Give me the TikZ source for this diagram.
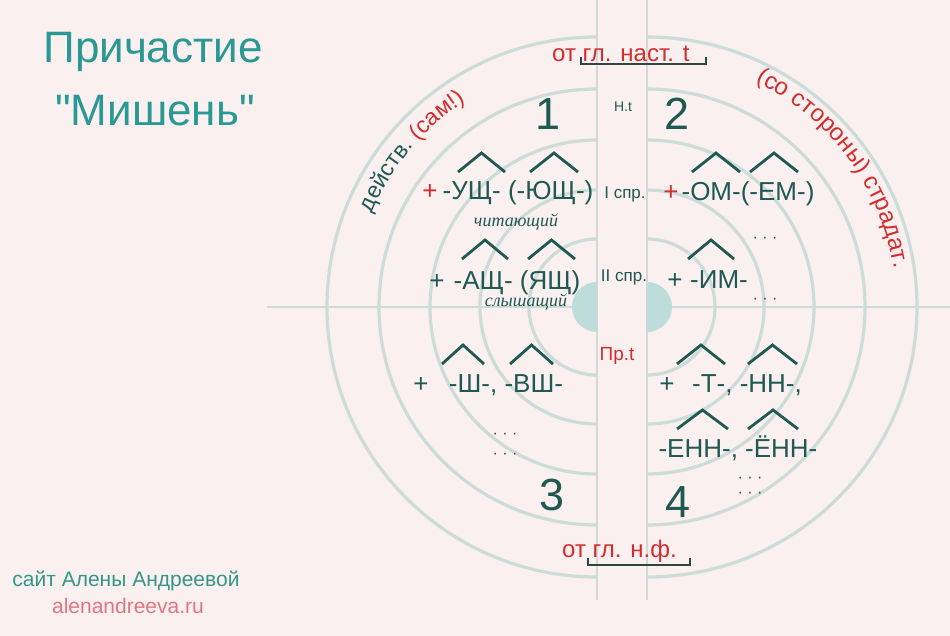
\documentclass[tikz,border=0pt]{standalone}
\usepackage{fontspec}
\setmainfont{Liberation Sans}[Ligatures=TeXOff]
\newfontfamily\handfont{Liberation Serif}
\usetikzlibrary{decorations.text}
\definecolor{tdark}{RGB}{32,88,82}
\definecolor{ttitle}{RGB}{42,152,147}
\definecolor{redc}{RGB}{212,44,44}
\definecolor{ringc}{RGB}{204,220,217}
\definecolor{vlinec}{RGB}{212,217,215}
\definecolor{discc}{RGB}{190,221,218}
\definecolor{ftteal}{RGB}{52,150,135}
\definecolor{ftred}{RGB}{226,118,128}
\definecolor{bgc}{RGB}{250,240,240}
\definecolor{dotc}{RGB}{60,70,70}
\definecolor{brc}{RGB}{45,70,68}
\begin{document}
\begin{tikzpicture}[x=1pt,y=1pt,
  hat/.style={draw=tdark, line width=2.8pt},
  ring/.style={draw=ringc, line width=3.2pt},
  vline/.style={draw=vlinec, line width=1.5pt},
  hline/.style={draw=ringc, line width=2.6pt},
  suf/.style={font=\fontsize{26}{30}\selectfont, text=tdark, inner sep=0pt, anchor=base},
  plusr/.style={suf, text=redc},
  num/.style={font=\fontsize{45}{50}\selectfont, text=tdark, inner sep=0pt, anchor=base},
  small/.style={font=\fontsize{17}{20}\selectfont, text=tdark, inner sep=0pt, anchor=base},
  hand/.style={font=\handfont\itshape\fontsize{18}{20}\selectfont, text=tdark, inner sep=0pt},
  dots/.style={font=\fontsize{16}{18}\selectfont, text=dotc, inner sep=0pt, anchor=base},
  redlab/.style={font=\fontsize{24}{27}\selectfont, text=redc, inner sep=0pt, anchor=base},
  titlestyle/.style={font=\fontsize{44}{50}\selectfont, text=ttitle, inner sep=0pt, anchor=base},
  bracket/.style={draw=brc, line width=1.6pt},
]
\fill[bgc] (0,0) rectangle (950,-636);
\useasboundingbox (0,0) rectangle (950,-636);

% lines
\draw[vline] (597,0) -- (597,-600);
\draw[vline] (647,0) -- (647,-600);
\draw[hline] (267,-307) -- (597,-307);
\draw[hline] (647,-307) -- (950,-307);

% central half discs
\fill[discc] (597,-282) arc[start angle=90,end angle=270,radius=25] -- cycle;
\fill[discc] (647,-282) arc[start angle=90,end angle=-90,radius=25] -- cycle;

% rings
\foreach \r in {68,117,167,218,270}{
  \draw[ring] (597,-307) ++(90:\r) arc[start angle=90,end angle=270,radius=\r];
  \draw[ring] (647,-307) ++(90:\r) arc[start angle=90,end angle=-90,radius=\r];
}

% arc texts
\path[decorate, decoration={text along path, text align=center,
  text={|\fontsize{23}{26}\selectfont\color{tdark}|действ. |\fontsize{23}{26}\selectfont\color{redc}|(сам!)}}]
  (597,-307) ++(175:244) arc[start angle=175,end angle=105,radius=244];
\path[decorate, decoration={text along path, text align=center,
  text={|\fontsize{24}{27}\selectfont\color{redc}|(со стороны) страдат.}}]
  (647,-307) ++(85:250) arc[start angle=85,end angle=-12,radius=250];

% title
\node[titlestyle] (t1) at (153,-63) {Причастие};
\node[titlestyle] (t2) at (155,-126) {"Мишень"};

% top / bottom labels
\node[redlab, anchor=base west] (top) at (552,-62) {от гл. наст. t};
\draw[bracket] (581,-57) -- (581,-64) -- (706,-64) -- (706,-57);
\node[redlab, anchor=base west] (bot) at (562,-557) {от гл. н.ф.};
\draw[bracket] (588,-558) -- (588,-565) -- (690,-565) -- (690,-558);

% numbers
\node[num] (n1) at (548,-130) {1};
\node[num] (n2) at (677,-130) {2};
\node[num] (n3) at (552,-510) {3};
\node[num] (n4) at (678,-517) {4};

% middle labels
\node[small, font=\fontsize{14}{16}\selectfont] (nt) at (623,-112) {Н.t};
\node[small] (s1) at (625,-199) {I спр.};
\node[small] (s2) at (624,-282) {II спр.};
\node[small, text=redc, font=\fontsize{19}{22}\selectfont] (pt) at (617,-360) {Пр.t};

% suffix rows
\node[plusr] (p1) at (430,-200) {+};
\node[suf] (r1) at (518,-200) {-УЩ- (-ЮЩ-)};
\node[plusr] (p2) at (671,-201) {+};
\node[suf] (r2) at (748,-201) {-ОМ-(-ЕМ-)};
\node[suf] (p3) at (437,-290) {+};
\node[suf] (r3) at (517,-290) {-АЩ- (ЯЩ)};
\node[suf] (p4) at (675,-289) {+};
\node[suf] (r4) at (719,-289) {-ИМ-};
\node[suf] (p5) at (421,-392) {+};
\node[suf] (r5) at (506,-392) {-Ш-, -ВШ-};
\node[suf] (p6) at (667,-392) {+};
\node[suf] (r6) at (747,-392) {-Т-, -НН-,};
\node[suf] (r7) at (738,-457) {-ЕНН-, -ЁНН-};

% hand-written examples
\node[hand] (h1) at (516,-222) {читающий};
\node[hand] (h2) at (526,-302) {слышащий};

% hats
\foreach \a/\b/\t in {458/505/153, 530/578/153, 692/740/153, 750/798/153,
  462/508/240, 528/575/240, 688/734/240,
  442/484/345, 510/553/345, 677/725/345, 748/797/345,
  677/728/410, 748/798/410}{
  \draw[hat] (\a,-\t-19) -- ({(\a+\b)/2},-\t) -- (\b,-\t-19);
}

% dots
\node[dots] (d1) at (765,-243) {· · ·};
\node[dots] (d2) at (765,-304) {· · ·};
\node[dots] (d3) at (505,-438) {· · ·};
\node[dots] (d4) at (505,-458) {· · ·};
\node[dots] (d5) at (750,-482) {· · ·};
\node[dots] (d6) at (750,-497) {· · ·};

% footer
\node[font=\fontsize{21}{24}\selectfont, text=ftteal, inner sep=0pt, anchor=base] (f1) at (126,-586) {сайт Алены Андреевой};
\node[font=\fontsize{21}{24}\selectfont, text=ftred, inner sep=0pt, anchor=base] (f2) at (128,-613) {alenandreeva.ru};
\end{tikzpicture}
\end{document}
